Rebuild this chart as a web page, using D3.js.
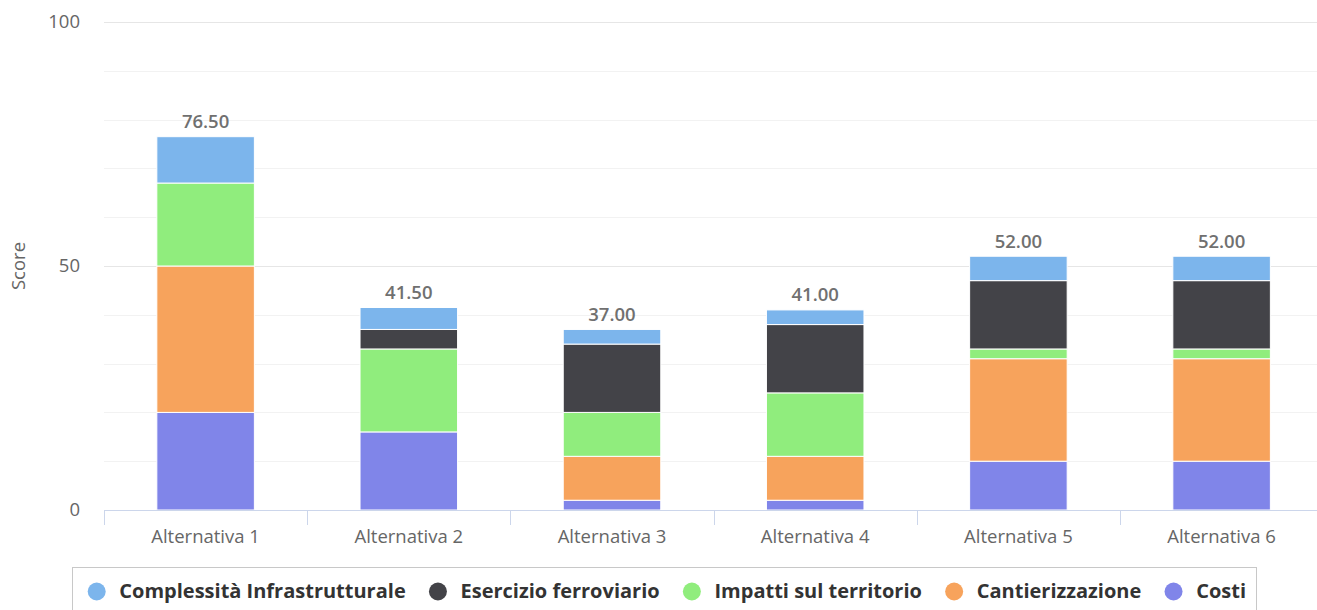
<!DOCTYPE html>
<html>
<head>
<meta charset="utf-8">
<script src="https://cdn.jsdelivr.net/npm/d3@7"></script>
<style>
    body { margin: 0; background: #fff; }
    svg { display: block; font-family: "Open Sans", sans-serif; }
</style>
</head>
<body>
<script>
//chart data
var categories = ["Alternativa 1", "Alternativa 2", "Alternativa 3", "Alternativa 4", "Alternativa 5", "Alternativa 6"];
var costi = [20, 16, 2, 2, 10, 10];
var cantierizzazione = [30, 0, 9, 9, 21, 21];
var impatti = [17, 17, 9, 13, 2, 2];
var esercizio = [0, 4, 14, 14, 14, 14];
var complessita = [9.5, 4.5, 3, 3, 5, 5];
var yTicks = [0, 50, 100];
var yMinorTicks = [10, 20, 30, 40, 60, 70, 80, 90];

//series from bottom of the stack to the top
var seriesNames = ["Costi", "Cantierizzazione", "Impatti sul territorio", "Esercizio ferroviario", "Complessità Infrastrutturale"];
var seriesValues = [costi, cantierizzazione, impatti, esercizio, complessita];
var seriesColors = ["#8085e9", "#f7a35c", "#90ed7d", "#434348", "#7cb5ec"];

window.onload = setChart();

function setChart(){
    var width = 1317,
        height = 610;

    var svg = d3.select("body")
        .append("svg")
        .attr("width", width)
        .attr("height", height);

    //scales
    var x = d3.scaleBand()
        .domain(categories)
        .range([104, 1323.2])
        .paddingInner(0.52)
        .paddingOuter(0.26);

    var y = d3.scaleLinear()
        .domain([0, 100])
        .range([510, 22]);

    //build rows for d3.stack
    var rows = categories.map(function(c, i){
        var row = {category: c};
        seriesNames.forEach(function(name, j){
            row[name] = seriesValues[j][i];
        });
        return row;
    });
    var stacked = d3.stack().keys(seriesNames)(rows);

    //grid lines
    svg.append("g")
        .selectAll("line")
        .data(yMinorTicks)
        .enter()
        .append("line")
        .attr("x1", 104)
        .attr("x2", width)
        .attr("y1", function(d){ return Math.round(y(d)) + 0.5; })
        .attr("y2", function(d){ return Math.round(y(d)) + 0.5; })
        .attr("stroke", "#f2f2f2");

    svg.append("g")
        .selectAll("line")
        .data(yTicks.filter(function(d){ return d > 0; }))
        .enter()
        .append("line")
        .attr("x1", 104)
        .attr("x2", width)
        .attr("y1", function(d){ return Math.round(y(d)) + 0.5; })
        .attr("y2", function(d){ return Math.round(y(d)) + 0.5; })
        .attr("stroke", "#e6e6e6");

    //y axis labels
    var yAxis = svg.append("g")
        .attr("transform", "translate(80,0)")
        .call(d3.axisLeft(y).tickValues(yTicks).tickSize(0).tickPadding(0));
    yAxis.select(".domain").remove();
    yAxis.selectAll("text")
        .attr("font-family", "Open Sans")
        .attr("font-size", 18.5)
        .attr("fill", "#666")
        .attr("dy", "0.32em");

    //y axis title
    svg.append("text")
        .attr("transform", "translate(25," + y(50) + ") rotate(-90)")
        .attr("text-anchor", "middle")
        .attr("font-size", 18.5)
        .attr("fill", "#666")
        .text("Score");

    //stacked bars
    svg.append("g")
        .selectAll("g")
        .data(stacked)
        .enter()
        .append("g")
        .attr("fill", function(d, i){ return seriesColors[i]; })
        .selectAll("rect")
        .data(function(d){ return d.filter(function(p){ return p[1] - p[0] > 0; }); })
        .enter()
        .append("rect")
        .attr("x", function(d){ return x(d.data.category); })
        .attr("width", x.bandwidth())
        .attr("y", function(d){ return y(d[1]); })
        .attr("height", function(d){ return y(d[0]) - y(d[1]); })
        .attr("stroke", "#fff")
        .attr("stroke-width", 1);

    //x axis
    svg.append("line")
        .attr("x1", 104)
        .attr("x2", width)
        .attr("y1", 510.5)
        .attr("y2", 510.5)
        .attr("stroke", "#ccd6eb");

    var step = x.step();
    svg.append("g")
        .selectAll("line")
        .data(d3.range(categories.length + 1))
        .enter()
        .append("line")
        .attr("x1", function(i){ return Math.round(104 + i * step) + 0.5; })
        .attr("x2", function(i){ return Math.round(104 + i * step) + 0.5; })
        .attr("y1", 510)
        .attr("y2", 525)
        .attr("stroke", "#ccd6eb");

    svg.append("g")
        .selectAll("text")
        .data(categories)
        .enter()
        .append("text")
        .attr("x", function(d){ return x(d) + x.bandwidth() / 2; })
        .attr("y", 542.5)
        .attr("text-anchor", "middle")
        .attr("font-size", 18.5)
        .attr("fill", "#666")
        .text(function(d){ return d; });

    //stack totals
    var totals = rows.map(function(r, i){ return stacked[stacked.length - 1][i][1]; });
    svg.append("g")
        .selectAll("text")
        .data(categories)
        .enter()
        .append("text")
        .attr("x", function(d){ return x(d) + x.bandwidth() / 2; })
        .attr("y", function(d, i){ return y(totals[i]) - 8.5; })
        .attr("text-anchor", "middle")
        .attr("font-size", 18.5)
        .attr("font-weight", 600)
        .attr("fill", "#707070")
        .text(function(d, i){ return totals[i].toFixed(2); });

    //legend box
    svg.append("rect")
        .attr("x", 72.5)
        .attr("y", 567.5)
        .attr("width", 1184)
        .attr("height", 60)
        .attr("fill", "none")
        .attr("stroke", "#c8c8c8");

    //legend, reversed so the top of the stack comes first
    var legendNames = seriesNames.slice().reverse(),
        legendColors = seriesColors.slice().reverse();

    var legend = svg.append("g");
    var items = legend.selectAll("g")
        .data(legendNames)
        .enter()
        .append("g");

    items.append("circle")
        .attr("r", 9)
        .attr("cy", 591.5)
        .attr("fill", function(d, i){ return legendColors[i]; });

    items.append("text")
        .attr("y", 598)
        .attr("font-size", 20)
        .attr("font-weight", "bold")
        .attr("fill", "#333")
        .text(function(d){ return d; });

    //spread items between first symbol and end of last label
    var widths = [];
    items.select("text").each(function(){ widths.push(this.getComputedTextLength()); });
    var start = 96.7,
        end = 1246,
        textOffset = 22.6;
    var used = d3.sum(widths) + textOffset * widths.length;
    var gap = (end - start - used) / (widths.length - 1);
    var pos = start;
    items.each(function(d, i){
        d3.select(this).select("circle").attr("cx", pos);
        d3.select(this).select("text").attr("x", pos + textOffset);
        pos += textOffset + widths[i] + gap;
    });
};
</script>
</body>
</html>
